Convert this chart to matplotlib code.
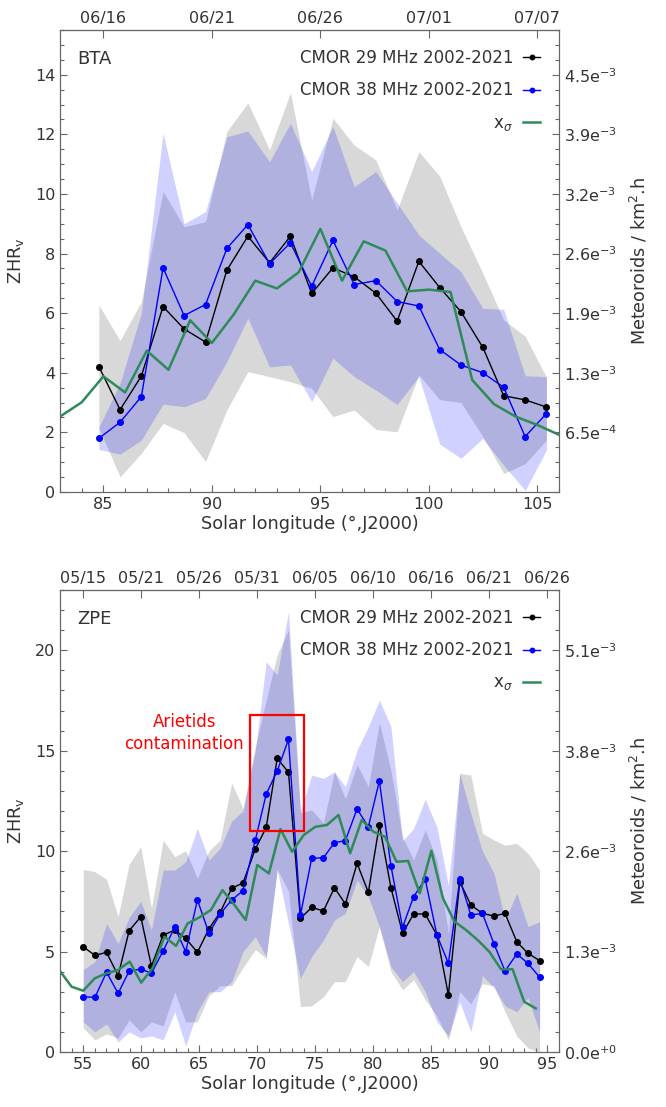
import matplotlib
matplotlib.use("Agg")
import matplotlib.pyplot as plt
from matplotlib.patches import Rectangle
from matplotlib.ticker import MultipleLocator

# ---------------- BTA (top panel) ----------------
bta_sl = [84.79, 85.77, 86.75, 87.75, 88.72, 89.71, 90.69, 91.66, 92.66, 93.62, 94.60,
          95.58, 96.56, 97.56, 98.54, 99.54, 100.50, 101.48, 102.49, 103.45, 104.44, 105.42]
bta_29 = [4.21, 2.76, 3.89, 6.22, 5.47, 5.03, 7.44, 8.58, 7.69, 8.58, 6.66,
          7.52, 7.22, 6.67, 5.73, 7.74, 6.86, 6.05, 4.85, 3.23, 3.09, 2.85]
bta_29_hi = [6.27, 5.08, 6.39, 10.08, 8.90, 9.07, 12.09, 13.06, 11.48, 13.40, 9.80,
             12.54, 11.64, 11.14, 9.46, 11.42, 10.60, 8.90, 7.34, 5.77, 5.23, 3.85]
bta_29_lo = [2.15, 0.51, 1.30, 2.30, 1.99, 1.02, 2.75, 4.04, 3.87, 3.70, 3.48,
             2.53, 2.75, 2.10, 2.02, 3.93, 3.10, 3.00, 1.86, 0.62, 0.95, 1.74]
bta_38 = [1.80, 2.34, 3.20, 7.52, 5.92, 6.29, 8.17, 8.97, 7.66, 8.36, 6.90,
          8.44, 6.96, 7.09, 6.39, 6.24, 4.78, 4.26, 4.00, 3.51, 1.86, 2.63]
bta_38_hi = [2.17, 3.65, 6.00, 12.04, 9.00, 9.41, 11.92, 12.11, 11.08, 12.37, 10.75,
             12.26, 10.24, 10.75, 9.70, 8.62, 8.01, 7.39, 6.16, 6.13, 3.90, 3.87]
bta_38_lo = [1.43, 1.27, 1.74, 2.95, 2.86, 3.14, 4.37, 5.83, 4.20, 4.26, 3.03,
             4.49, 3.87, 3.42, 2.94, 3.87, 1.61, 1.13, 1.80, 0.90, 0.05, 1.41]
bta_xs_sl = [83, 84, 85, 86, 87, 88, 89, 90, 91, 92, 93, 94, 95, 96, 97, 98,
             99, 100, 101, 102, 103, 104, 105, 106]
bta_xs = [2.53, 3.01, 3.88, 3.34, 4.74, 4.10, 5.76, 5.00, 5.95, 7.09, 6.83, 7.37,
          8.83, 7.09, 8.41, 8.10, 6.73, 6.79, 6.71, 3.76, 2.95, 2.53, 2.25, 1.92]
bta_dates = ["06/16", "06/21", "06/26", "07/01", "07/07"]
bta_date_sl = [85, 90, 95, 100, 105]
bta_right_ticks = [2, 4, 6, 8, 10, 12, 14]
bta_right_labels = ["6.5e$^{-4}$", "1.3e$^{-3}$", "1.9e$^{-3}$", "2.6e$^{-3}$",
                    "3.2e$^{-3}$", "3.9e$^{-3}$", "4.5e$^{-3}$"]

# ---------------- ZPE (bottom panel) ----------------
zpe_sl = [55.00, 56.01, 57.01, 58.01, 58.96, 59.96, 60.88, 61.89, 62.89, 63.83, 64.84,
          65.84, 66.80, 67.80, 68.77, 69.83, 70.77, 71.72, 72.69, 73.72, 74.69, 75.70,
          76.65, 77.59, 78.60, 79.57, 80.52, 81.52, 82.52, 83.47, 84.47, 85.48, 86.47,
          87.45, 88.40, 89.40, 90.40, 91.35, 92.36, 93.33, 94.33]
zpe_29 = [5.24, 4.81, 4.96, 3.80, 6.04, 6.73, 4.28, 5.82, 6.07, 5.66, 4.96,
          6.14, 6.95, 8.15, 8.42, 10.10, 11.18, 14.62, 13.92, 6.65, 7.20, 7.02,
          8.18, 7.37, 9.39, 7.95, 11.30, 8.18, 5.91, 6.87, 6.87, 5.82, 2.84,
          8.48, 7.32, 6.90, 6.77, 6.90, 5.49, 4.91, 4.55]
zpe_29_hi = [9.09, 8.98, 8.60, 6.74, 9.36, 10.22, 7.15, 10.55, 9.72, 10.02, 8.65,
             10.02, 10.55, 13.40, 12.10, 15.20, 17.50, 19.80, 21.00, 11.90, 12.05, 11.40,
             13.95, 12.60, 14.30, 13.20, 16.40, 14.00, 10.70, 9.56, 11.05, 9.56, 5.90,
             13.87, 13.79, 10.89, 10.55, 10.30, 10.39, 9.89, 9.06]
zpe_29_lo = [1.20, 0.60, 0.90, 0.70, 1.60, 1.00, 1.50, 1.30, 3.00, 1.50, 1.50,
             2.80, 3.30, 3.30, 4.20, 5.10, 4.66, 9.10, 8.00, 2.26, 2.30, 2.75,
             3.50, 3.50, 4.75, 4.25, 6.24, 4.00, 3.10, 3.60, 2.60, 1.80, 0.60,
             3.00, 2.40, 3.40, 3.30, 2.00, 0.80, 0.20, 0.00]
zpe_38 = [2.75, 2.72, 3.97, 2.92, 4.03, 4.13, 3.92, 5.04, 6.21, 4.99, 7.57,
          5.91, 6.87, 7.57, 8.03, 10.55, 12.84, 13.99, 15.56, 6.82, 9.64, 9.67,
          10.42, 10.52, 12.10, 11.21, 13.49, 9.26, 6.21, 7.73, 8.60, 5.82, 4.41,
          8.60, 6.82, 6.90, 5.38, 4.03, 4.88, 4.41, 3.72]
zpe_38_hi = [4.10, 4.50, 6.40, 5.40, 6.70, 7.50, 6.07, 9.06, 9.06, 9.47, 11.13,
             9.56, 10.14, 11.50, 12.00, 15.00, 19.43, 18.77, 21.92, 12.00, 13.79, 13.62,
             13.95, 13.20, 15.03, 16.19, 17.52, 16.20, 10.50, 11.13, 12.58, 11.21, 8.30,
             13.87, 11.88, 10.00, 8.89, 6.57, 7.90, 6.24, 6.49]
zpe_38_lo = [1.50, 1.00, 1.40, 0.50, 1.00, 0.70, 0.80, 0.60, 2.00, 0.30, 2.00,
             3.00, 3.00, 3.50, 5.00, 5.74, 4.75, 9.06, 6.40, 3.67, 4.75, 5.57,
             6.57, 6.90, 8.56, 7.73, 6.24, 4.25, 3.50, 4.00, 3.00, 1.50, 0.80,
             2.50, 1.00, 3.80, 3.20, 2.30, 2.00, 2.70, 1.00]
zpe_xs_sl = [53, 54, 55, 56, 57, 58, 59, 60, 61, 62, 63, 64, 65, 66, 67, 68, 69, 70,
             71, 72, 73, 74, 75, 76, 77, 78, 79, 80, 81, 82, 83, 84, 85, 86, 87, 88,
             89, 90, 91, 92, 93, 94]
zpe_xs = [4.03, 3.25, 3.05, 3.67, 3.92, 4.08, 4.50, 3.45, 4.20, 5.74, 5.28, 6.40,
          6.70, 7.07, 8.06, 7.35, 6.57, 9.31, 8.89, 11.10, 9.97, 10.80, 11.21, 11.30,
          11.80, 9.89, 11.55, 10.97, 10.72, 9.47, 9.51, 7.90, 10.02, 7.65, 6.49, 6.07,
          5.57, 4.99, 4.12, 4.12, 2.50, 2.17]
zpe_dates = ["05/15", "05/21", "05/26", "05/31", "06/05", "06/10", "06/16", "06/21", "06/26"]
zpe_date_sl = [55, 60, 65, 70, 75, 80, 85, 90, 95]
zpe_right_ticks = [0, 5, 10, 15, 20]
zpe_right_labels = ["0.0e$^{+0}$", "1.3e$^{-3}$", "2.6e$^{-3}$", "3.8e$^{-3}$", "5.1e$^{-3}$"]

TXT = "#333333"
SPINE = "#666666"
plt.rcParams["font.family"] = "DejaVu Sans"
plt.rcParams["font.size"] = 11.5
plt.rcParams["text.color"] = TXT
plt.rcParams["axes.labelcolor"] = TXT
plt.rcParams["xtick.color"] = TXT
plt.rcParams["ytick.color"] = TXT


def panel(ax, name, sl, v29, lo29, hi29, v38, lo38, hi38, xs_sl, xs, xlim, ylim,
          ymaj, ymin, dates, date_sl, rticks, rlabels):
    ax.fill_between(sl, lo29, hi29, color="gray", alpha=0.3, lw=0)
    ax.fill_between(sl, lo38, hi38, color="blue", alpha=0.18, lw=0)
    l29, = ax.plot(sl, v29, "-o", color="black", lw=1, ms=4, label="CMOR 29 MHz 2002-2021")
    l38, = ax.plot(sl, v38, "-o", color="blue", lw=1, ms=4, label="CMOR 38 MHz 2002-2021")
    lxs, = ax.plot(xs_sl, xs, "-", color="#2e8b57", lw=1.8, label="x$_\\sigma$")
    ax.set_xlim(*xlim)
    ax.set_ylim(*ylim)
    ax.xaxis.set_major_locator(MultipleLocator(5))
    ax.xaxis.set_minor_locator(MultipleLocator(1))
    ax.yaxis.set_major_locator(MultipleLocator(ymaj))
    ax.yaxis.set_minor_locator(MultipleLocator(ymin))
    ax.tick_params(which="both", direction="in", length=5, width=0.8, color=SPINE, labelsize=11.5)
    ax.tick_params(which="minor", length=3)
    ax.set_xlabel("Solar longitude (°,J2000)", labelpad=2, fontsize=12.7)
    ax.set_ylabel("ZHR$_\\mathregular{v}$", labelpad=6, fontsize=12.7)
    for s in ax.spines.values():
        s.set_color(SPINE)
    ax.text(0.035, 0.937, name, transform=ax.transAxes, fontsize=13, va="center")
    ax.legend(handles=[l29, l38, lxs], loc="upper right", frameon=False,
              markerfirst=False, handlelength=1.0, fontsize=12, labelspacing=0.85,
              borderaxespad=0.75, handletextpad=0.6, labelcolor=TXT, markerscale=0.8)

    top = ax.secondary_xaxis("top")
    top.set_xticks(date_sl)
    top.set_xticklabels(dates)
    top.tick_params(direction="in", length=6, color=SPINE, pad=3, labelsize=11.5)
    top.spines["top"].set_color(SPINE)

    rax = ax.twinx()
    rax.set_ylim(*ylim)
    rax.set_yticks(rticks)
    rax.set_yticklabels(rlabels)
    rax.yaxis.set_minor_locator(MultipleLocator(ymin))
    rax.tick_params(which="both", direction="in", length=5, width=0.8, color=SPINE, labelsize=11.5)
    rax.tick_params(which="minor", length=3)
    rax.set_ylabel("Meteoroids / km$^2$.h", labelpad=8, fontsize=12.7)
    for s in rax.spines.values():
        s.set_color(SPINE)
    return ax


fig = plt.figure(figsize=(6.66, 11.07), dpi=100)
ax1 = fig.add_axes([60 / 666, 1 - 492 / 1107, 499 / 666, 462 / 1107])
ax2 = fig.add_axes([60 / 666, 1 - 1052 / 1107, 499 / 666, 462 / 1107])

panel(ax1, "BTA", bta_sl, bta_29, bta_29_lo, bta_29_hi, bta_38, bta_38_lo, bta_38_hi,
      bta_xs_sl, bta_xs, (83, 106), (0, 15.5), 2, 0.5, bta_dates, bta_date_sl,
      bta_right_ticks, bta_right_labels)
panel(ax2, "ZPE", zpe_sl, zpe_29, zpe_29_lo, zpe_29_hi, zpe_38, zpe_38_lo, zpe_38_hi,
      zpe_xs_sl, zpe_xs, (53, 96), (0, 23), 5, 1, zpe_dates, zpe_date_sl,
      zpe_right_ticks, zpe_right_labels)

# Arietids contamination box
ax2.add_patch(Rectangle((69.4, 11.0), 4.6, 5.8, fill=False, edgecolor="red", lw=1.6, zorder=5))
ax2.text(63.7, 15.9, "Arietids\ncontamination", color="red", ha="center", va="center",
         fontsize=12, linespacing=1.3)

fig.savefig("out.png", dpi=100)
